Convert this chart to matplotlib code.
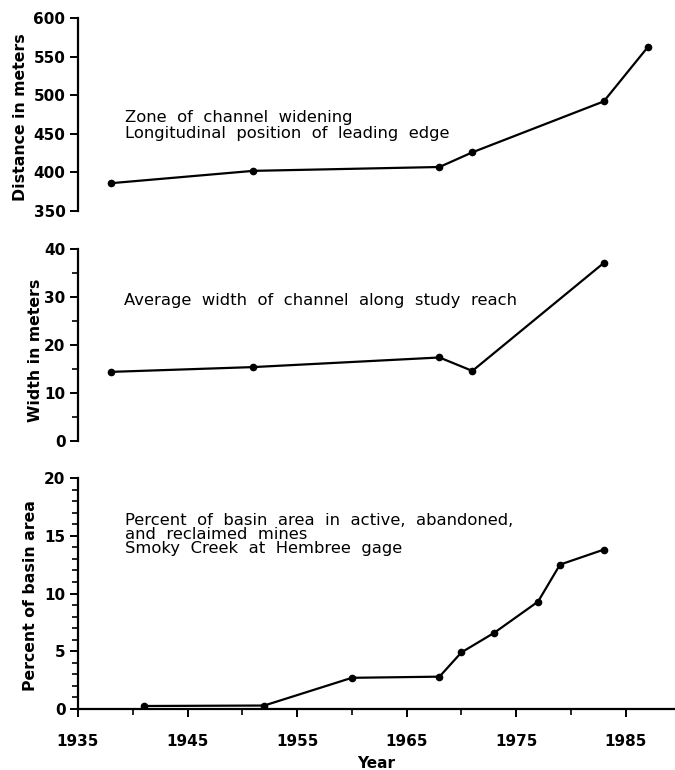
import numpy as np
import matplotlib
matplotlib.use("Agg")
import matplotlib.pyplot as plt
from matplotlib.ticker import MultipleLocator

# values
distYears=[1938,1951,1968,1971,1983,1987]
distVals=[386,402,407,426,492,562]

widthYears=[1938,1951,1968,1971,1983]
widthVals=[14.4,15.4,17.4,14.6,37.1]

mineYears=[1941,1952,1960,1968,1970,1973,1977,1979,1983]
mineVals=[0.26,0.3,2.7,2.8,4.9,6.6,9.3,12.5,13.8]

xTickLabels=["1935","1945","1955","1965","1975","1985"]

plt.rcParams["font.family"]="DejaVu Sans"

fig=plt.figure(figsize=(6.75,7.7),dpi=100)
left=78/675
width=1-left
axTop=fig.add_axes([left,1-211/770,width,193/770])
axMid=fig.add_axes([left,1-441/770,width,192/770])
axBot=fig.add_axes([left,1-709/770,width,231/770])

lineKw=dict(color="black",lw=1.6,marker="o",markersize=4.5)
axTop.plot(distYears,distVals,**lineKw)
axMid.plot(widthYears,widthVals,**lineKw)
axBot.plot(mineYears,mineVals,**lineKw)

for ax in [axTop,axMid,axBot]:
    ax.set_xlim(1935,1989.5)
    ax.spines["top"].set_visible(False)
    ax.spines["right"].set_visible(False)
    ax.spines["left"].set_linewidth(1.6)
    ax.tick_params(axis="y",which="major",direction="out",length=6,width=1.4,pad=3,labelsize=11)
    ax.tick_params(axis="y",which="minor",direction="out",length=4,width=1.2)

for ax in [axTop,axMid]:
    ax.spines["bottom"].set_visible(False)
    ax.set_xticks([])

axTop.set_ylim(350,600)
axTop.yaxis.set_major_locator(MultipleLocator(50))
axMid.set_ylim(0,40)
axMid.yaxis.set_major_locator(MultipleLocator(10))
axMid.yaxis.set_minor_locator(MultipleLocator(5))
axBot.set_ylim(0,20)
axBot.yaxis.set_major_locator(MultipleLocator(5))
axBot.yaxis.set_minor_locator(MultipleLocator(1))

for ax in [axTop,axMid,axBot]:
    for lab in ax.get_yticklabels():
        lab.set_fontweight("bold")

axBot.spines["bottom"].set_linewidth(1.6)
axBot.set_xticks(np.arange(1935,1990,10))
axBot.set_xticklabels(xTickLabels,fontsize=11,fontweight="bold")
axBot.xaxis.set_minor_locator(MultipleLocator(5))
axBot.tick_params(axis="x",which="major",direction="out",length=6,width=1.4,pad=12)
axBot.tick_params(axis="x",which="minor",direction="out",length=4,width=1.2)
axBot.set_xlabel("Year",fontsize=11,fontweight="bold",labelpad=5)

axTop.set_ylabel("Distance in meters",fontsize=11.3,fontweight="bold")
axTop.yaxis.set_label_coords(-0.083,0.487)
axMid.set_ylabel("Width in meters",fontsize=11.3,fontweight="bold")
axMid.yaxis.set_label_coords(-0.059,0.474)
axBot.set_ylabel("Percent of basin area",fontsize=11.3,fontweight="bold")
axBot.yaxis.set_label_coords(-0.067,0.49)

txtKw=dict(fontsize=11.8,va="center",ha="left")
axTop.text(0.079,0.482,"Zone  of  channel  widening",transform=axTop.transAxes,**txtKw)
axTop.text(0.079,0.404,"Longitudinal  position  of  leading  edge",transform=axTop.transAxes,**txtKw)
axMid.text(0.077,0.734,"Average  width  of  channel  along  study  reach",transform=axMid.transAxes,**txtKw)
axBot.text(0.079,0.818,"Percent  of  basin  area  in  active,  abandoned,",transform=axBot.transAxes,**txtKw)
axBot.text(0.079,0.755,"and  reclaimed  mines",transform=axBot.transAxes,**txtKw)
axBot.text(0.079,0.693,"Smoky  Creek  at  Hembree  gage",transform=axBot.transAxes,**txtKw)

fig.savefig("out.png",dpi=100)
plt.close(fig)
